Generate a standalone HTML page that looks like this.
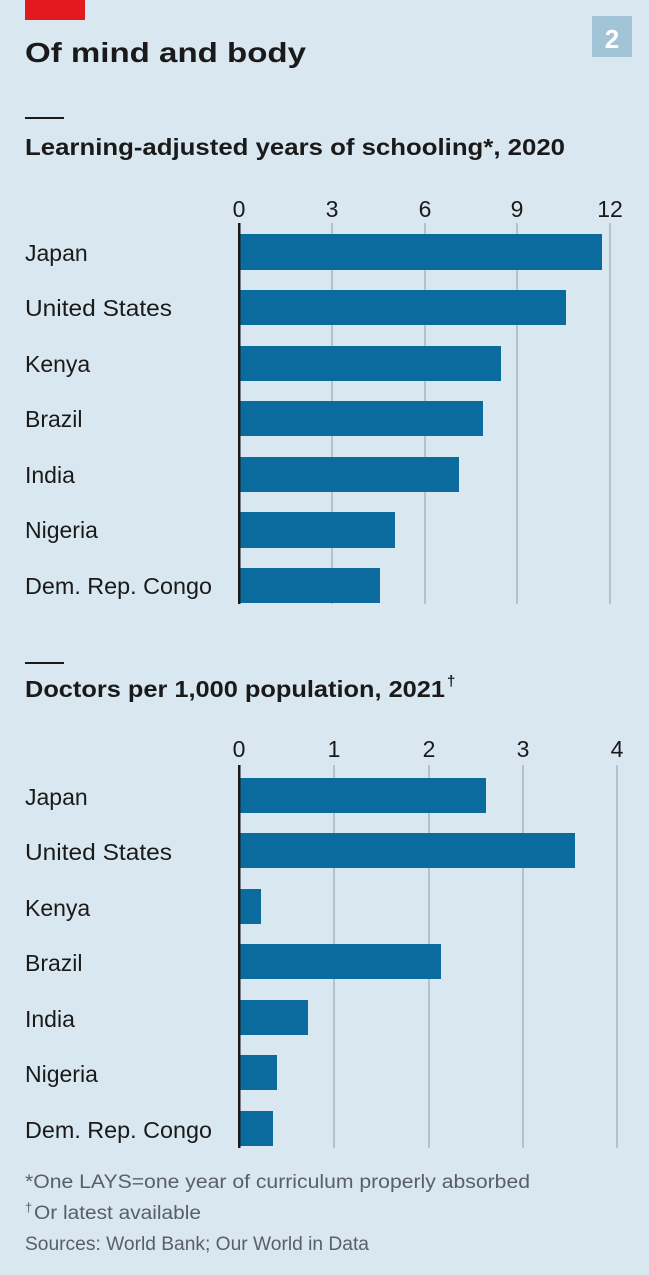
<!DOCTYPE html>
<html><head><meta charset="utf-8"><style>
html,body{margin:0;padding:0;background:#d9e7f0;}
svg{display:block}
</style></head><body>
<svg width="649" height="1275" xmlns="http://www.w3.org/2000/svg" font-family="'Liberation Sans', sans-serif">
<rect width="649" height="1275" fill="#d9e7f0"/>
<rect x="25" y="0" width="60" height="20" fill="#e3191f"/>
<rect x="592" y="16" width="40" height="41" fill="#a3c4d7"/>
<text x="612" y="48" font-size="26" font-weight="bold" fill="#fff" text-anchor="middle">2</text>
<text x="25" y="62" font-size="28" font-weight="bold" fill="#1a1a1a" textLength="281" lengthAdjust="spacingAndGlyphs">Of mind and body</text>
<rect x="25" y="117" width="39" height="2" fill="#1a1a1a"/>
<text x="25" y="155" font-size="23" font-weight="bold" fill="#1a1a1a" textLength="540" lengthAdjust="spacingAndGlyphs">Learning-adjusted years of schooling*, 2020</text>
<g stroke="#a9b6c0" stroke-width="1.5">
<line x1="332" y1="223" x2="332" y2="604"/><line x1="425" y1="223" x2="425" y2="604"/><line x1="517" y1="223" x2="517" y2="604"/><line x1="610" y1="223" x2="610" y2="604"/>
</g>
<g font-size="23" fill="#1a1a1a" text-anchor="middle">
<text x="239" y="217">0</text><text x="332" y="217">3</text><text x="425" y="217">6</text><text x="517" y="217">9</text><text x="610" y="217">12</text>
</g>
<g fill="#0b6b9f">
<rect x="239" y="234" width="363" height="36"/>
<rect x="239" y="290" width="327" height="35"/>
<rect x="239" y="346" width="262" height="35"/>
<rect x="239" y="401" width="244" height="35"/>
<rect x="239" y="457" width="220" height="35"/>
<rect x="239" y="512" width="156" height="36"/>
<rect x="239" y="568" width="141" height="35"/>
</g>
<rect x="238" y="223" width="2.5" height="381" fill="#1a1a1a"/>
<g font-size="23" fill="#1a1a1a">
<text x="25" y="261">Japan</text>
<text x="25" y="316" textLength="147" lengthAdjust="spacingAndGlyphs">United States</text>
<text x="25" y="372">Kenya</text>
<text x="25" y="427">Brazil</text>
<text x="25" y="483">India</text>
<text x="25" y="538">Nigeria</text>
<text x="25" y="594" textLength="187" lengthAdjust="spacingAndGlyphs">Dem. Rep. Congo</text>
</g>
<rect x="25" y="662" width="39" height="2" fill="#1a1a1a"/>
<text x="25" y="697" font-size="23" font-weight="bold" fill="#1a1a1a" textLength="420" lengthAdjust="spacingAndGlyphs">Doctors per 1,000 population, 2021</text>
<text x="447" y="686" font-size="15" font-weight="bold" fill="#1a1a1a">†</text>
<g stroke="#a9b6c0" stroke-width="1.5">
<line x1="334" y1="765" x2="334" y2="1148"/><line x1="429" y1="765" x2="429" y2="1148"/><line x1="523" y1="765" x2="523" y2="1148"/><line x1="617" y1="765" x2="617" y2="1148"/>
</g>
<g font-size="23" fill="#1a1a1a" text-anchor="middle">
<text x="239" y="757">0</text><text x="334" y="757">1</text><text x="429" y="757">2</text><text x="523" y="757">3</text><text x="617" y="757">4</text>
</g>
<g fill="#0b6b9f">
<rect x="239" y="778" width="247" height="35"/>
<rect x="239" y="833" width="336" height="35"/>
<rect x="239" y="889" width="22" height="35"/>
<rect x="239" y="944" width="202" height="35"/>
<rect x="239" y="1000" width="69" height="35"/>
<rect x="239" y="1055" width="38" height="35"/>
<rect x="239" y="1111" width="34" height="35"/>
</g>
<rect x="238" y="765" width="2.5" height="383" fill="#1a1a1a"/>
<g font-size="23" fill="#1a1a1a">
<text x="25" y="805">Japan</text>
<text x="25" y="860" textLength="147" lengthAdjust="spacingAndGlyphs">United States</text>
<text x="25" y="916">Kenya</text>
<text x="25" y="971">Brazil</text>
<text x="25" y="1027">India</text>
<text x="25" y="1082">Nigeria</text>
<text x="25" y="1138" textLength="187" lengthAdjust="spacingAndGlyphs">Dem. Rep. Congo</text>
</g>
<g font-size="19" fill="#595f66">
<text x="25" y="1188" textLength="505" lengthAdjust="spacingAndGlyphs">*One LAYS=one year of curriculum properly absorbed</text>
<text x="25" y="1212" font-size="13">†</text>
<text x="34" y="1219" textLength="167" lengthAdjust="spacingAndGlyphs">Or latest available</text>
<text x="25" y="1250" textLength="344" lengthAdjust="spacingAndGlyphs">Sources: World Bank; Our World in Data</text>
</g>
</svg>
</body></html>
